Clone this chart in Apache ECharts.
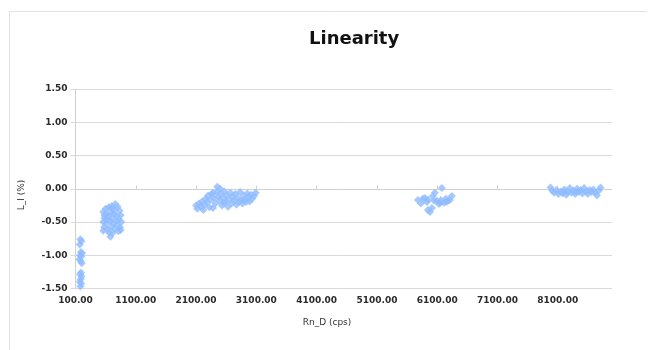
<!DOCTYPE html>
<html>
<head>
<meta charset="utf-8">
<title>Linearity</title>
<script src="https://cdn.jsdelivr.net/npm/echarts@6/dist/echarts.min.js"></script>
<style>
  html, body { margin: 0; padding: 0; background: #ffffff; }
  #chart { width: 656px; height: 350px; }
</style>
</head>
<body>
<div id="chart"></div>
<script>
// Measurement groups: Rn_D (cps) against linearity L_I (%)
const rnD1 = [180, 200, 170, 190, 210, 175, 195, 165, 185, 205, 190, 175, 200, 185, 170, 195, 180];
const li1  = [-0.76, -0.79, -0.84, -0.95, -0.97, -1.00, -1.02, -1.06, -1.09, -1.12, -1.26, -1.29, -1.32, -1.36, -1.40, -1.43, -1.47];

const rnD2 = [600, 650, 700, 760, 800, 830, 560, 620, 690, 740, 850, 580, 640, 700, 770, 820, 860, 560, 610,
              670, 730, 790, 840, 575, 630, 690, 750, 810, 560, 660, 720, 680, 700, 780, 620, 850, 580, 740];
const li2  = [-0.30, -0.28, -0.26, -0.23, -0.27, -0.33, -0.35, -0.38, -0.36, -0.31, -0.40, -0.44, -0.42, -0.45, -0.40, -0.46, -0.50, -0.50, -0.52,
              -0.49, -0.52, -0.55, -0.58, -0.58, -0.61, -0.57, -0.60, -0.64, -0.63, -0.66, -0.66, -0.72, -0.30, -0.48, -0.46, -0.62, -0.40, -0.38];

const rnD3 = [2100, 2120, 2150, 2180, 2200, 2220, 2240, 2260, 2280, 2300, 2320, 2340, 2360, 2380, 2400, 2420, 2440, 2450,
              2470, 2490, 2510, 2530, 2550, 2570, 2590, 2610, 2630, 2650, 2670, 2690, 2710, 2730, 2750, 2770, 2790, 2810,
              2830, 2850, 2870, 2890, 2910, 2930, 2950, 2970, 2990, 3010, 3030, 3060, 3090, 2500, 2380, 2560];
const li3  = [-0.25, -0.30, -0.22, -0.27, -0.19, -0.32, -0.24, -0.15, -0.20, -0.10, -0.28, -0.17, -0.08, -0.29, -0.14, -0.22, -0.05, 0.03,
              -0.12, -0.18, -0.08, -0.25, -0.14, -0.04, -0.20, -0.10, -0.27, -0.16, -0.06, -0.22, -0.12, -0.18, -0.08, -0.24, -0.14, -0.20,
              -0.05, -0.17, -0.22, -0.10, -0.16, -0.20, -0.07, -0.13, -0.19, -0.09, -0.15, -0.11, -0.06, 0.00, -0.06, -0.21];

const rnD4 = [5780, 5830, 5863, 5896, 5930, 5946, 5980, 6012, 6029, 6062, 6095, 6128, 6161, 6178, 6211, 6244, 6277, 6310, 6343,
              6050, 6150, 6250, 5950];
const li4  = [-0.17, -0.22, -0.15, -0.14, -0.20, -0.32, -0.35, -0.29, -0.11, -0.06, -0.18, -0.23, -0.17, 0.01, -0.21, -0.15, -0.18, -0.17, -0.11,
              -0.18, -0.21, -0.20, -0.16];

const rnD5 = [7980, 8010, 8040, 8080, 8110, 8150, 8180, 8210, 8240, 8270, 8300, 8330, 8360, 8390, 8420, 8450, 8480, 8510,
              8540, 8570, 8600, 8630, 8660, 8690, 8720, 8750, 8780, 8810, 8200, 8400];
const li5  = [0.02, -0.03, -0.06, -0.02, -0.08, -0.04, -0.07, -0.01, -0.09, -0.05, 0.01, -0.06, -0.03, -0.08, 0.00, -0.05, -0.02, -0.07,
              0.01, -0.04, -0.08, -0.02, -0.05, -0.01, -0.06, -0.10, -0.03, 0.02, -0.05, -0.04];

const xTicks = [100, 1100, 2100, 3100, 4100, 5100, 6100, 7100, 8100];

const groupsX = [rnD1, rnD2, rnD3, rnD4, rnD5];
const groupsY = [li1, li2, li3, li4, li5];
const points = [];
groupsX.forEach((xs, g) => xs.forEach((x, i) => points.push([x, groupsY[g][i]])));

const textFont = 'DejaVu Sans';
const frameColor = '#e2e2e2';
const labelColor = '#2b2b2b';

const chart = echarts.init(document.getElementById('chart'), null, { renderer: 'canvas' });
chart.setOption({
  backgroundColor: '#ffffff',
  animation: false,
  title: {
    text: 'Linearity',
    left: 304,
    top: 25,
    textStyle: { fontFamily: textFont, fontSize: 18, fontWeight: 'bold', color: '#111111' }
  },
  grid: { left: 75.5, right: 44, top: 89, bottom: 61.5, containLabel: false, outerBoundsMode: 'none' },
  xAxis: {
    type: 'value',
    min: 100,
    max: 9000,
    splitLine: { show: false },
    axisLine: { show: true, onZero: true, lineStyle: { color: '#d0d0d0', width: 1 } },
    axisTick: { show: true, inside: true, length: 3, customValues: xTicks, lineStyle: { color: '#cccccc' } },
    axisLabel: {
      customValues: xTicks,
      margin: 8,
      fontFamily: textFont,
      fontSize: 9,
      fontWeight: 'bold',
      color: labelColor,
      formatter: v => v.toFixed(2)
    }
  },
  yAxis: {
    type: 'value',
    min: -1.5,
    max: 1.5,
    interval: 0.5,
    splitLine: { show: true, lineStyle: { color: '#d9d9d9', width: 1 } },
    axisLine: { show: true, lineStyle: { color: '#d0d0d0', width: 1 } },
    axisTick: { show: true, length: 5, lineStyle: { color: '#d9d9d9' } },
    axisLabel: {
      margin: 8,
      fontFamily: textFont,
      fontSize: 9,
      fontWeight: 'bold',
      color: labelColor,
      formatter: v => v.toFixed(2)
    }
  },
  graphic: [
    { type: 'line', silent: true, shape: { x1: 9.5, y1: 11.5, x2: 647, y2: 11.5 }, style: { stroke: frameColor, lineWidth: 1 } },
    { type: 'line', silent: true, shape: { x1: 9.5, y1: 11.5, x2: 9.5, y2: 350 }, style: { stroke: frameColor, lineWidth: 1 } },
    {
      type: 'text', silent: true, x: 327, y: 323,
      style: { text: 'Rn_D (cps)', fontFamily: textFont, fontSize: 9, fill: '#333333', align: 'center', verticalAlign: 'middle' }
    },
    {
      type: 'text', silent: true, x: 22, y: 195, rotation: Math.PI / 2,
      style: { text: 'L_I (%)', fontFamily: textFont, fontSize: 9, fill: '#333333', align: 'center', verticalAlign: 'middle' }
    }
  ],
  series: [{
    type: 'scatter',
    data: points,
    symbol: 'diamond',
    symbolSize: 8,
    itemStyle: { color: '#8fbcff' }
  }]
});
</script>
</body>
</html>
